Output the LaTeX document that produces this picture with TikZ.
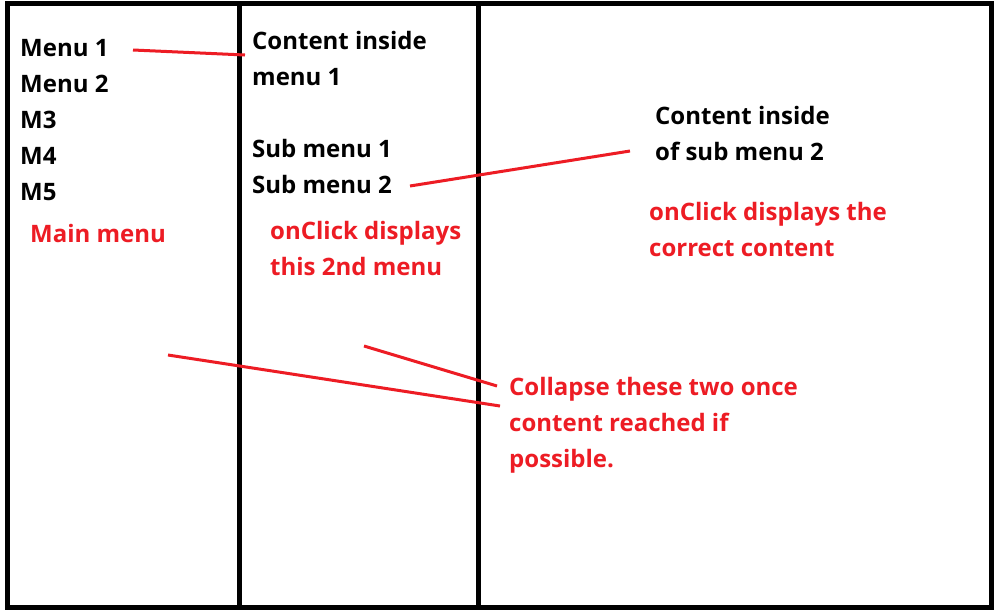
\documentclass[tikz,border=0pt]{standalone}
\usepackage{fontspec}
\setmainfont{Open Sans}
\definecolor{pr}{RGB}{237,28,36}
\begin{document}
\begin{tikzpicture}[x=1pt,y=-1pt,
 bk/.style={anchor=west,font=\bfseries\fontsize{24}{36}\selectfont,inner sep=0pt},
 rd/.style={bk,text=pr,align=left},
 ln/.style={pr,line width=3pt}]
\useasboundingbox (0,0) rectangle (997,611);
\fill[white] (0,0) rectangle (997,611);
\draw[line width=5pt] (7,3) rectangle (991,607);
\draw[line width=5pt] (239,3) -- (239,607);
\draw[line width=5pt] (478,3) -- (478,607);
\node[bk] (m1) at (20,48) {Menu 1};
\node[bk] (m2) at (20,84) {Menu 2};
\node[bk] (m3) at (20,120) {M3};
\node[bk] (m4) at (20,156) {M4};
\node[bk] (m5) at (20,192) {M5};
\node[rd] (mm) at (30,233) {Main menu};
\node[bk,align=left] (c1) at (252,58) {Content inside\\menu 1};
\node[bk] (s1) at (252,148) {Sub menu 1};
\node[bk] (s2) at (252,184) {Sub menu 2};
\node[rd] (oc) at (270,248) {onClick displays\\this 2nd menu};
\node[bk,align=left] (c2) at (655,133) {Content inside\\of sub menu 2};
\node[rd] (od) at (649,229) {onClick displays the\\correct content};
\node[rd] (co) at (509,425) {Collapse these two once\\content reached if\\possible.};
\coordinate (a1) at (133,50); \coordinate (a2) at (245,55);
\coordinate (b1) at (410,186); \coordinate (b2) at (630,151);
\coordinate (d1) at (168,355); \coordinate (d2) at (500,406);
\coordinate (e1) at (364,346); \coordinate (e2) at (497,386);
\draw[ln] (a1) -- (a2);
\draw[ln] (b1) -- (b2);
\draw[ln] (d1) -- (d2);
\draw[ln] (e1) -- (e2);
\end{tikzpicture}
\end{document}
